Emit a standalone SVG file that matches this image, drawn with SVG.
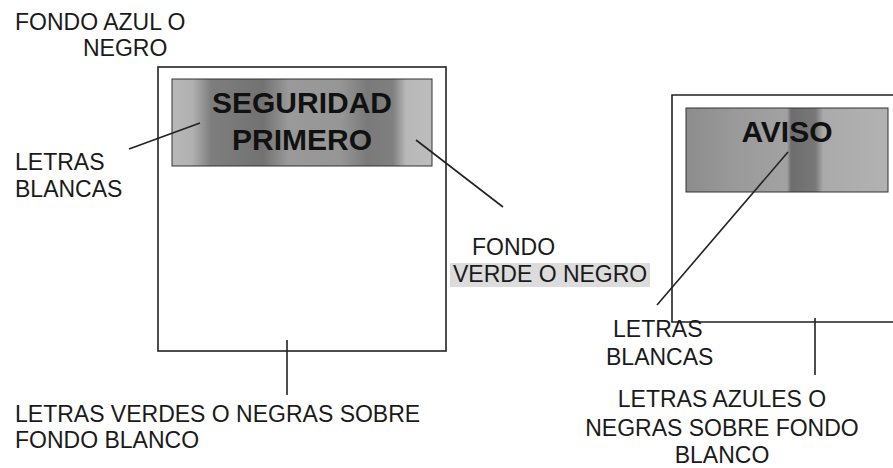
<svg xmlns="http://www.w3.org/2000/svg" width="893" height="468" viewBox="0 0 893 468">
<style>
.lbl{font-family:"Liberation Sans",Arial,sans-serif;font-size:23px;fill:#1a1a1a}
.sign{font-family:"Liberation Sans",Arial,sans-serif;font-size:30px;font-weight:bold;fill:#111}
.frame{fill:none;stroke:#222;stroke-width:1.6}
.lead{stroke:#222;stroke-width:1.6;fill:none}
</style>
<defs>
<linearGradient id="gL" x1="0" y1="0" x2="1" y2="0">
<stop offset="0" stop-color="#b9b9b9"/>
<stop offset="0.08" stop-color="#b0b0b0"/>
<stop offset="0.15" stop-color="#7e7e7e"/>
<stop offset="0.35" stop-color="#727272"/>
<stop offset="0.45" stop-color="#9a9a9a"/>
<stop offset="0.65" stop-color="#969696"/>
<stop offset="0.75" stop-color="#7a7a7a"/>
<stop offset="0.85" stop-color="#808080"/>
<stop offset="0.9" stop-color="#b8b8b8"/>
<stop offset="1" stop-color="#bdbdbd"/>
</linearGradient>
<linearGradient id="gR" x1="0" y1="0" x2="1" y2="0">
<stop offset="0" stop-color="#8c8c8c"/>
<stop offset="0.25" stop-color="#9a9a9a"/>
<stop offset="0.5" stop-color="#a2a2a2"/>
<stop offset="0.52" stop-color="#6e6e6e"/>
<stop offset="0.64" stop-color="#777"/>
<stop offset="0.68" stop-color="#aaa"/>
<stop offset="1" stop-color="#b2b2b2"/>
</linearGradient>
</defs>
<rect width="893" height="468" fill="#fff"/>

<g id="sign-left">
<rect class="frame" x="158" y="67" width="288" height="284"/>
<rect x="172" y="79" width="260" height="87" fill="url(#gL)" stroke="#333" stroke-width="1"/>
<text class="sign" x="302" y="113" text-anchor="middle">SEGURIDAD</text>
<text class="sign" x="302" y="150" text-anchor="middle">PRIMERO</text>
</g>

<g id="sign-right">
<path class="frame" d="M893 95 H672 V322 H893"/>
<rect x="686" y="108" width="202" height="84" fill="url(#gR)" stroke="#333" stroke-width="1"/>
<text class="sign" x="787" y="142" text-anchor="middle">AVISO</text>
</g>

<g id="label-fondo-azul">
<text class="lbl" x="15" y="30">FONDO AZUL O</text>
<text class="lbl" x="83" y="56">NEGRO</text>
</g>

<g id="label-letras-blancas-1">
<text class="lbl" x="15" y="170">LETRAS</text>
<text class="lbl" x="15" y="197">BLANCAS</text>
</g>

<g id="label-fondo-verde">
<rect x="450" y="263" width="200" height="24" fill="#dcdcdc"/>
<text class="lbl" x="472" y="255">FONDO</text>
<text class="lbl" x="453" y="282">VERDE O NEGRO</text>
</g>

<g id="label-letras-blancas-2">
<text class="lbl" x="613" y="337">LETRAS</text>
<text class="lbl" x="606" y="365">BLANCAS</text>
</g>

<g id="label-letras-verdes">
<text class="lbl" x="15" y="422">LETRAS VERDES O NEGRAS SOBRE</text>
<text class="lbl" x="15" y="448">FONDO BLANCO</text>
</g>

<g id="label-letras-azules">
<text class="lbl" x="722" y="407" text-anchor="middle">LETRAS AZULES O</text>
<text class="lbl" x="722" y="436" text-anchor="middle">NEGRAS SOBRE FONDO</text>
<text class="lbl" x="722" y="463" text-anchor="middle">BLANCO</text>
</g>

<g id="connectors">
<line class="lead" x1="129" y1="149" x2="200" y2="123"/>
<line class="lead" x1="416" y1="140" x2="503" y2="207"/>
<line class="lead" x1="287" y1="340" x2="287" y2="395"/>
<line class="lead" x1="657" y1="305" x2="788" y2="152"/>
<line class="lead" x1="815" y1="318" x2="815" y2="375"/>
</g>
</svg>
